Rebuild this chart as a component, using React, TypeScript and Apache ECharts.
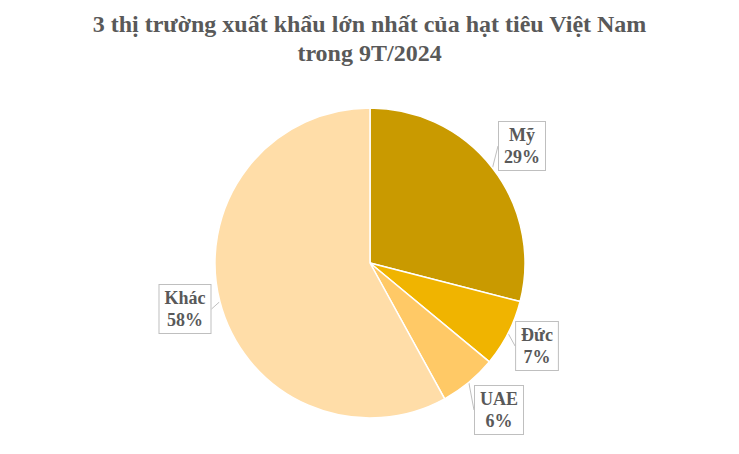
import React, { useEffect, useRef } from "react";
import * as echarts from "echarts";

const titleLines = ["3 thị trường xuất khẩu lớn nhất của hạt tiêu Việt Nam", "trong 9T/2024"];
const categories = ["Mỹ", "Đức", "UAE", "Khác"];
const shares = [29, 7, 6, 58];
const colors = ["#C99A00", "#F0B400", "#FFC966", "#FFDDA8"];

export default function App() {
  const ref = useRef<HTMLDivElement>(null);
  useEffect(() => {
    document.body.style.margin = "0";
    const chart = echarts.init(ref.current!, null, { renderer: "svg" });
    const labelPos = [
      [522, 146],
      [537, 346],
      [499, 410],
      [185, 309],
    ];
    chart.setOption({
      animation: false,
      backgroundColor: "#ffffff",
      title: {
        text: titleLines.join("\n"),
        left: "center",
        top: 4,
        textStyle: {
          fontFamily: "Liberation Serif",
          fontSize: 24,
          fontWeight: "bold",
          color: "#595959",
          lineHeight: 29,
        },
      },
      series: [
        {
          type: "pie",
          center: [370, 263],
          radius: 155,
          startAngle: 90,
          clockwise: true,
          data: categories.map((c, i) => ({
            name: c,
            value: shares[i],
            itemStyle: { color: colors[i] },
          })),
          itemStyle: { borderColor: "#ffffff", borderWidth: 1.5 },
          label: {
            show: true,
            position: "outside",
            formatter: (p: any) => `${p.name}\n${p.value}%`,
            fontFamily: "Liberation Serif",
            fontSize: 18,
            fontWeight: "bold",
            color: "#595959",
            lineHeight: 22,
            align: "center",
            backgroundColor: "#ffffff",
            borderColor: "#bfbfbf",
            borderWidth: 1,
            padding: [2, 5],
          },
          labelLine: {
            show: true,
            length: 6,
            length2: 0,
            lineStyle: { color: "#bfbfbf", width: 1 },
          },
          labelLayout: (params: any) => {
            const p = labelPos[params.dataIndex];
            return { x: p[0], y: p[1], align: "center", verticalAlign: "middle" };
          },
          emphasis: { disabled: true },
        },
      ],
    });
    return () => chart.dispose();
  }, []);
  return <div ref={ref} style={{ width: 739, height: 454 }} />;
}
